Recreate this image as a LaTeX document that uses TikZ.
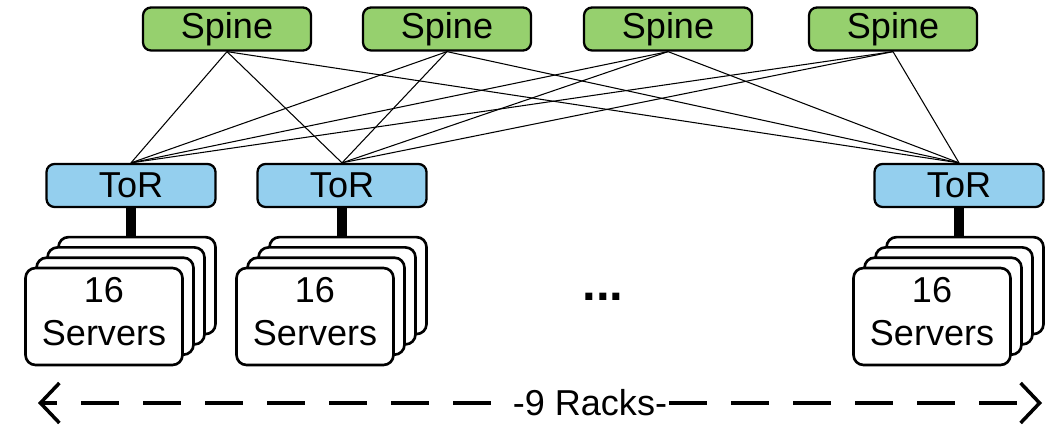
\documentclass[tikz,border=0pt]{standalone}
\usepackage{fontspec}
\setmainfont{Liberation Sans}
\usetikzlibrary{positioning, arrows.meta}
\definecolor{spinegreen}{RGB}{150,208,110}
\definecolor{torblue}{RGB}{148,207,238}

\begin{document}
\begin{tikzpicture}[x=0.02cm, y=-0.02cm,
  font=\fontsize{20.5}{24.5}\selectfont,
  switch/.style={shape=rectangle, draw, line width=1.3pt, rounded corners=0.16cm, minimum height=0.86cm, inner sep=0pt},
  spine/.style={switch, fill=spinegreen, minimum width=3.36cm},
  tor/.style={switch, fill=torblue, minimum width=3.38cm},
  server/.style={shape=rectangle, draw, fill=white, line width=1.5pt, rounded corners=0.2cm, minimum width=3.14cm, minimum height=1.94cm, align=center, inner sep=0pt},
  link/.style={line width=0.6pt},
  uplink/.style={line width=6pt},
  racks/.style={dash pattern=on 0.76cm off 0.48cm, line width=2pt, -{Straight Barb[length=0.38cm, width=0.8cm]}}]
\useasboundingbox (0,0) rectangle (1054,428);

% spine layer
\foreach \name/\x in {s1/227, s2/447, s3/668, s4/893}
  \node[spine] (\name) at (\x,29) {Spine};

% racks: ToR + stacked servers
\foreach \name/\x in {r1/131, r2/342, r3/959} {
  \node[tor] (\name) at (\x,185.5) {ToR};
  \foreach \k in {3,2,1}
    \node[server] (\name-\k) at (\x-27+\k*11, 316.5-\k*10.3) {};
  \node[server, text depth=0.2cm] (\name-0) at (\x-27,316.5) {16\\Servers};
  \draw[uplink] (\name.south) -- (\name.south |- \name-3.north);
}

% full mesh
\foreach \s in {s1,s2,s3,s4}
  \foreach \r in {r1,r2,r3}
    \draw[link] (\s.south) -- (\r.north);

\node[font=\fontsize{28}{30}\selectfont\bfseries] (dots) at (603,297) {...};

% rack count
\node[fill=white, inner ysep=2pt, inner xsep=1pt] (racks) at (590,403) {-9 Racks-};
\coordinate (rl) at (38,403);
\coordinate (rr) at (1042,403);
\draw[racks] ([xshift=-0.4cm]racks.west) -- (rl);
\draw[racks] (racks.east) -- (rr);
\end{tikzpicture}
\end{document}
